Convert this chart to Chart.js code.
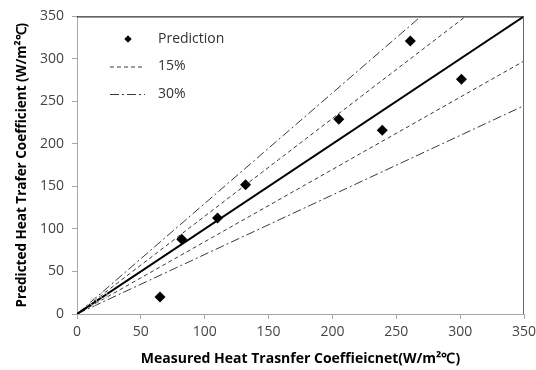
<!DOCTYPE html>
<html><head><meta charset="utf-8">
<script src="https://cdn.jsdelivr.net/npm/chart.js@4/dist/chart.umd.min.js"></script>
<style>html,body{margin:0;padding:0;background:#fff}#wrap{width:536px;height:370px}</style>
</head><body><div id="wrap"><canvas id="c" width="536" height="370"></canvas></div>
<script>
// ---- data ----
const measured  = [65, 82, 110, 132, 205, 239, 261, 301];
const predicted = [20, 88, 113, 152, 229, 216, 321, 276];
const faintMeasured  = [13, 21];
const faintPredicted = [14, 22];
const xTicks = [0, 50, 100, 150, 200, 250, 300, 350];
const yTicks = [0, 50, 100, 150, 200, 250, 300, 350];
const parityRatio = [1];
const band15Ratios = [1.15, 0.85];
const band30Ratios = [1.3, 0.7];
const legendLabels = ['Prediction', '15%', '30%'];
const xTitle = 'Measured Heat Trasnfer Coeffieicnet(W/m\u00B2\u2103)';
const yTitle = 'Predicted Heat Trafer Coefficient (W/m\u00B2\u2103)';

const AX_MAX = Math.max(...xTicks);
function ratioLine(r){
  const xe = Math.min(AX_MAX, AX_MAX / r);
  return [{x:0,y:0},{x:xe,y:r*xe}];
}
const DASH15 = [4,3];
const DASH30 = [9,3,2,3];
const lineColor = '#3a3a3a';

const datasets = [
  {type:'scatter', label:legendLabels[0], data: measured.map((v,i)=>({x:v,y:predicted[i]})),
   pointStyle:'rectRot', pointRadius:5.5, backgroundColor:'#000', borderColor:'#000', borderWidth:0, order:0},
  {type:'scatter', label:'faint', data: faintMeasured.map((v,i)=>({x:v,y:faintPredicted[i]})),
   pointStyle:'circle', pointRadius:3.5, backgroundColor:'rgba(0,0,0,0)', borderColor:'#c8c8c8', borderWidth:1, order:1},
  ...parityRatio.map(r=>({type:'line', label:'1:1', data: ratioLine(r), borderColor:'#000', borderWidth:2, pointRadius:0, order:2})),
  ...band15Ratios.map(r=>({type:'line', label:legendLabels[1], data: ratioLine(r), borderColor:lineColor, borderWidth:1, borderDash:DASH15, pointRadius:0, order:3})),
  ...band30Ratios.map(r=>({type:'line', label:legendLabels[2], data: ratioLine(r), borderColor:lineColor, borderWidth:1, borderDash:DASH30, pointRadius:0, order:4})),
];

const frame = {
  id:'frame',
  afterDraw(chart){
    const {ctx, chartArea:a} = chart;
    ctx.save();
    ctx.lineWidth = 1;
    ctx.strokeStyle = '#000';
    ctx.beginPath(); ctx.moveTo(a.left, a.top+0.5); ctx.lineTo(a.right, a.top+0.5); ctx.stroke();
    ctx.strokeStyle = '#6a6a6a';
    ctx.beginPath(); ctx.moveTo(a.right-0.5, a.top); ctx.lineTo(a.right-0.5, a.bottom); ctx.stroke();
    // legend
    const items = [
      {kind:'point'}, {kind:'dash', dash:DASH15}, {kind:'dash', dash:DASH30}
    ];
    const x0 = 110, x1 = 145, tx = 158, y0 = 39, dy = 27.5;
    ctx.font = '14px "Open Sans"';
    ctx.fillStyle = '#333';
    ctx.textBaseline = 'middle';
    items.forEach((it,i)=>{
      const y = y0 + i*dy;
      if (it.kind==='point'){
        Chart.helpers.drawPoint(ctx, {pointStyle:'rectRot', radius:3.5, borderWidth:0}, 128, y);
        ctx.fillStyle = '#000'; ctx.fill();
      } else {
        ctx.strokeStyle = lineColor; ctx.lineWidth = 1; ctx.setLineDash(it.dash);
        ctx.beginPath(); ctx.moveTo(x0, y+0.5); ctx.lineTo(x1, y+0.5); ctx.stroke();
        ctx.setLineDash([]);
      }
      ctx.fillStyle = '#333';
      ctx.fillText(legendLabels[i], tx, y);
    });
    ctx.restore();
  }
};

const tickFont = {family:'"Open Sans"', size:14};
const titleFont = {family:'"Open Sans"', size:14, weight:'bold'};
const yTitleFont = {family:'"Open Sans"', size:13.5, weight:'bold'};

new Chart(document.getElementById('c'), {
  type:'scatter',
  data:{datasets},
  options:{
    responsive:false, animation:false, devicePixelRatio:1,
    layout:{padding:{left:0, top:12, right:12, bottom:0}},
    plugins:{legend:{display:false}, tooltip:{enabled:false}},
    scales:{
      x:{type:'linear', min:0, max:AX_MAX,
        afterBuildTicks(s){ s.ticks = xTicks.map(v=>({value:v})); },
        afterFit(s){ s.height = 56; s.paddingRight = 0; s.paddingLeft = 0; },
        ticks:{font:tickFont, color:'#444', padding:5, maxRotation:0},
        grid:{drawOnChartArea:false, drawTicks:true, tickLength:5, color:'#a6a6a6'},
        border:{color:'#a6a6a6'},
        title:{display:true, text:xTitle, font:titleFont, color:'#000', padding:{top:0,bottom:3}}
      },
      y:{type:'linear', min:0, max:AX_MAX,
        afterBuildTicks(s){ s.ticks = yTicks.map(v=>({value:v})); },
        afterFit(s){ s.width = 77; },
        ticks:{font:tickFont, color:'#444', padding:8},
        grid:{drawOnChartArea:false, drawTicks:true, tickLength:5, color:'#a6a6a6'},
        border:{color:'#a6a6a6'},
        title:{display:true, text:yTitle, font:yTitleFont, color:'#000', padding:{top:14,bottom:0}}
      }
    }
  },
  plugins:[frame]
});
</script>
</body></html>
